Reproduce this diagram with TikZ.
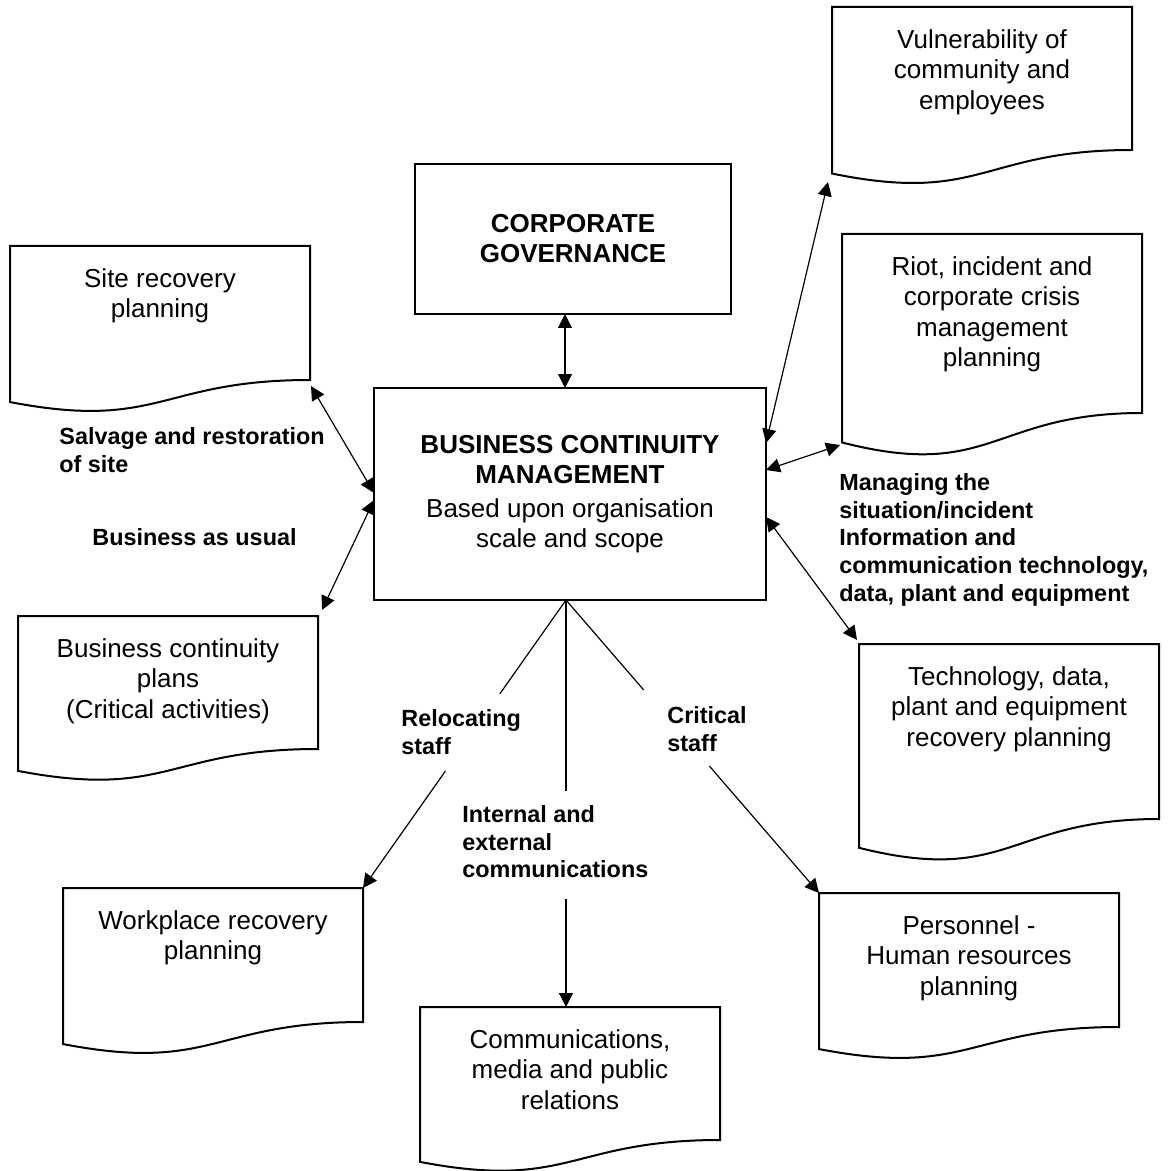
\documentclass[tikz,border=0pt]{standalone}
\usepackage{fontspec}
\setmainfont{Liberation Sans}
\usetikzlibrary{arrows.meta,calc}
\newcommand\mydoc[2]{%
  \draw[docline] ($(#1.south west)+(0,#2*0.1646)$) -- (#1.north west) -- (#1.north east) -- (#1.south east)
    .. controls (#1.south) and ($(#1.south)+(0,#2*0.380)$) .. cycle;}
\tikzset{
  docbox/.style={rectangle, draw=none, minimum width=150pt, anchor=north west, inner sep=0pt, outer sep=0pt},
  doctext/.style={anchor=north, align=center, inner sep=0pt, font=\fontsize{13pt}{15.2pt}\selectfont},
  plainbox/.style={rectangle, draw, line width=1pt, align=center, inner sep=0pt, outer sep=0pt,
                   font=\fontsize{13pt}{15pt}\selectfont},
  lbl/.style={anchor=north west, align=left, inner sep=0pt, font=\fontsize{11.7pt}{13.85pt}\selectfont\bfseries},
  dbl/.style={line width=0.6pt, {Triangle[length=7pt,width=7pt]}-{Triangle[length=7pt,width=7pt]}},
  one/.style={line width=0.6pt, -{Triangle[length=7pt,width=7pt]}},
  plain/.style={line width=0.6pt},
  docline/.style={line width=1pt, line join=miter}
}
\begin{document}
\begin{tikzpicture}[x=0.5pt,y=-0.5pt]
\useasboundingbox (0,0) rectangle (1168,1171);

% central boxes
\node[plainbox, minimum width=158pt, minimum height=75pt, font=\fontsize{13pt}{15pt}\selectfont\bfseries] (cg) at (573,239) {CORPORATE\\GOVERNANCE};
\node[plainbox, minimum width=196pt, minimum height=106pt] (bcm) at (570,494)
  {\textbf{BUSINESS CONTINUITY}\\\textbf{MANAGEMENT}\\[2pt]Based upon organisation\\scale and scope};

% document boxes
\node[docbox, minimum height=67pt] (site) at (10,246) {};
\mydoc{site}{134}
\node[doctext] (siteT) at ($(site.north)+(0,22)$) {Site recovery\\planning};

\node[docbox, minimum height=66.5pt] (bcp) at (18,616) {};
\mydoc{bcp}{133}
\node[doctext] (bcpT) at ($(bcp.north)+(0,22)$) {Business continuity\\plans\\(Critical activities)};

\node[docbox, minimum height=67pt] (wp) at (63,888) {};
\mydoc{wp}{134}
\node[doctext] (wpT) at ($(wp.north)+(0,22)$) {Workplace recovery\\planning};

\node[docbox, minimum height=66.5pt] (comms) at (420,1007) {};
\mydoc{comms}{133}
\node[doctext] (commsT) at ($(comms.north)+(0,22)$) {Communications,\\media and public\\relations};

\node[docbox, minimum height=67pt] (pers) at (819,893) {};
\mydoc{pers}{134}
\node[doctext] (persT) at ($(pers.north)+(0,22)$) {Personnel -\\Human resources\\planning};

\node[docbox, minimum height=87.5pt] (tech) at (859,644) {};
\mydoc{tech}{175}
\node[doctext] (techT) at ($(tech.north)+(0,22)$) {Technology, data,\\plant and equipment\\recovery planning};

\node[docbox, minimum height=89.5pt] (riot) at (842,234) {};
\mydoc{riot}{179}
\node[doctext] (riotT) at ($(riot.north)+(0,22)$) {Riot, incident and\\corporate crisis\\management\\planning};

\node[docbox, minimum height=71.5pt] (vuln) at (832,7) {};
\mydoc{vuln}{143}
\node[doctext] (vulnT) at ($(vuln.north)+(0,22)$) {Vulnerability of\\community and\\employees};

% labels
\node[lbl] (lsalv) at (59,427) {Salvage and restoration\\of site};
\node[lbl] (lbau) at (92,528) {Business as usual};
\node[lbl] (lman) at (839,473) {Managing the\\situation/incident\\Information and\\communication technology,\\data, plant and equipment};
\node[lbl] (lrel) at (401,709) {Relocating\\staff};
\node[lbl] (lcrit) at (667,706) {Critical\\staff};
\node[lbl] (lint) at (462,805) {Internal and\\external\\communications};

% double-headed connectors
\draw[dbl] ($(cg.south)+(-8,0)$) -- ($(bcm.north)+(-5,0)$);
\draw[dbl] ($(site.south east)+(1,6)$) -- ($(bcm.north west)+(0,105)$);
\draw[dbl] ($(bcm.north west)+(0,112)$) -- ($(bcp.north east)+(4,-6)$);
\draw[dbl] ($(vuln.south west)+(-4,32)$) -- ($(bcm.north east)+(0,55)$);
\draw[dbl] ($(riot.south west)+(-2,32)$) -- ($(bcm.north east)+(0,82)$);
\draw[dbl] ($(bcm.north east)+(0,129)$) -- ($(tech.north west)+(-2,-4)$);

% branches from bottom of BCM
\coordinate (apex) at ($(bcm.south)+(-4,0)$);
\draw[plain] (apex) -- ($(apex)!0.326!(wp.north east)$);
\draw[one] ($(apex)!0.594!(wp.north east)$) -- (wp.north east);
\draw[plain] (apex) -- ($(apex)!0.469!(apex |- comms.north)$);
\draw[one] ($(apex)!0.735!(apex |- comms.north)$) -- (apex |- comms.north);
\draw[plain] (apex) -- ($(apex)!0.307!(pers.north west)$);
\draw[one] ($(apex)!0.567!(pers.north west)$) -- (pers.north west);
\end{tikzpicture}
\end{document}
